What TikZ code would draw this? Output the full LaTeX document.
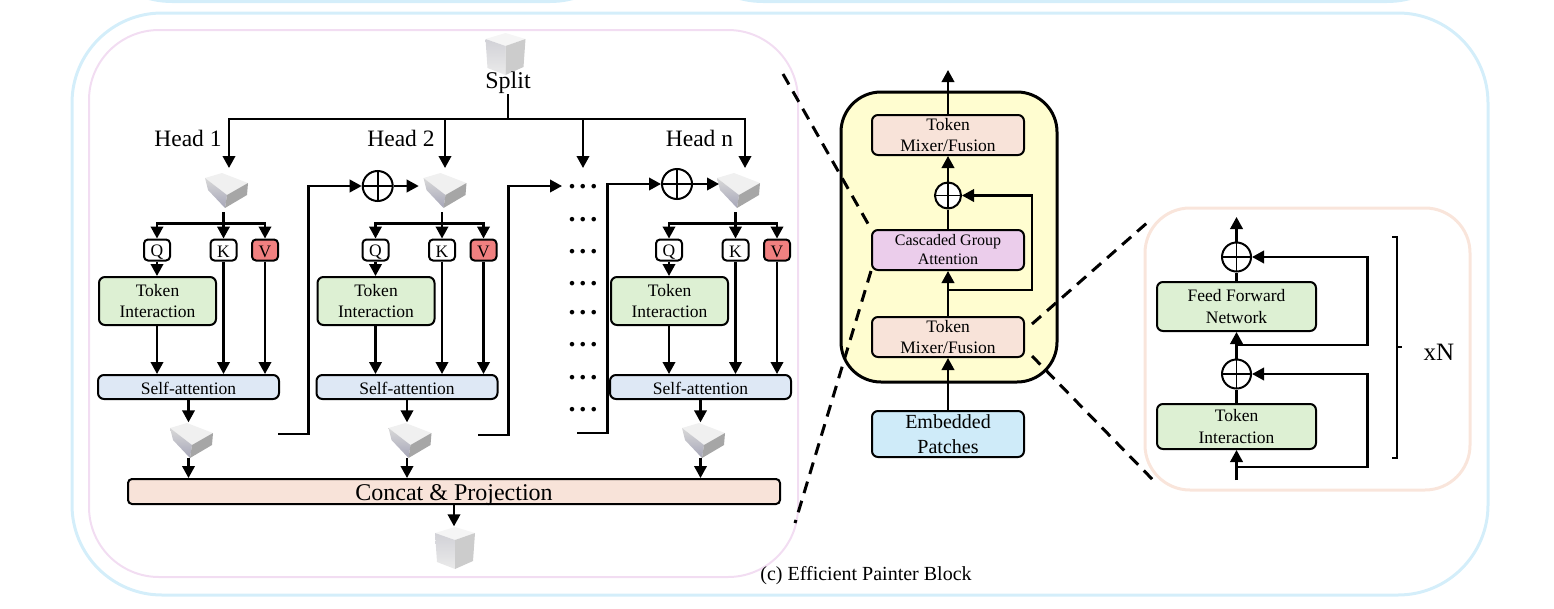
\documentclass[tikz,border=0pt]{standalone}
\usepackage{fontspec}
\setmainfont{Liberation Serif}
\usetikzlibrary{arrows.meta}

\definecolor{framecyan}{HTML}{D4EEFA}
\definecolor{framepink}{HTML}{F2DDF2}
\definecolor{framepeach}{HTML}{F9E5DB}
\definecolor{blockyellow}{HTML}{FFFDD0}
\definecolor{mixerfill}{HTML}{F8E3D9}
\definecolor{groupfill}{HTML}{EBCDEB}
\definecolor{patchfill}{HTML}{CFEBF9}
\definecolor{tokenfill}{HTML}{DDF0D3}
\definecolor{selffill}{HTML}{DEE8F5}
\definecolor{vfill}{HTML}{F08080}

\tikzset{
  flow/.style={line width=2.2pt},
  arr/.style={flow,-{Triangle[length=12pt,width=12.5pt]}},
  frame/.style={line width=3pt},
  slash/.style={line width=3pt,dash pattern=on 12pt off 8pt},
  box/.style={draw,line width=2pt,rounded corners=6pt,inner sep=0pt,align=center},
  drop/.style={execute at begin node={\rule{0pt}{#1}}},
  txtsmall/.style={font=\fontsize{17.5}{21.5}\selectfont,drop=15pt},
  txtbig/.style={font=\fontsize{23.5}{27}\selectfont},
  letter/.style={box,txtsmall,rounded corners=4pt,minimum width=26pt,minimum height=21pt},
  addnode/.style={circle,draw,fill=white,line width=2pt,inner sep=0pt,minimum size=#1,
    path picture={
      \draw[line width=1.6pt] (path picture bounding box.north) -- (path picture bounding box.south);
      \draw[line width=1.6pt] (path picture bounding box.west) -- (path picture bounding box.east);}},
  flatcube/.style={inner sep=0pt,minimum width=46pt,minimum height=35pt,
    path picture={\begin{scope}[shift={(path picture bounding box.center)}]
      \fill[black!6] (-22,-12) -- (-5,-17) -- (21,-7) -- (0,5) -- cycle;
      \shade[top color=black!15,bottom color=blue!20!black!35] (-22,-12) -- (0,5) -- (-2,18) -- (-19,0) -- cycle;
      \fill[black!35] (0,5) -- (21,-7) -- (20,5) -- (-2,18) -- cycle;
    \end{scope}}},
  tallcube/.style={inner sep=0pt,minimum width=42pt,minimum height=43pt,
    path picture={\begin{scope}[shift={(path picture bounding box.center)}]
      \fill[black!4] (-20,-15) -- (0,-21) -- (20,-15) -- (0,-8) -- cycle;
      \shade[top color=blue!12!black!18,bottom color=black!8] (-20,-15) -- (0,-8) -- (0,21) -- (-18,14) -- cycle;
      \fill[black!20] (0,-8) -- (20,-15) -- (18,13) -- (0,21) -- cycle;
    \end{scope}}}
}

\begin{document}
\begin{tikzpicture}[x=1pt,y=-1pt]
  \useasboundingbox (0,0) rectangle (1554,608);
  \clip (0,0) rectangle (1554,608);

  % frames
  \draw[frame,framecyan,rounded corners=90pt] (82,-200) rectangle (640,1.5);
  \draw[frame,framecyan,rounded corners=90pt] (673,-200) rectangle (1477,1.5);
  \draw[frame,framecyan,rounded corners=90pt] (72,13) rectangle (1488,595);
  \draw[line width=2pt,framepink,rounded corners=70pt] (89,30) rectangle (798,577);
  \draw[frame,framepeach,rounded corners=45pt] (1145,208) rectangle (1470,490);
  \draw[line width=3pt,fill=blockyellow,rounded corners=40pt] (841,92) rectangle (1057,382);

  % left part
  \node[tallcube] (cubein) at (505.5,54) {};
  \node[font=\fontsize{24}{28}\selectfont,inner sep=0pt] (split) at (508,83) {Split};
  \coordinate (trunk) at (508,119);
  \draw[flow] (split.south) -- (trunk);
  \foreach \to/\tox in {ina/229,inb/445,ind/583,inn/745} {
    \coordinate (\to) at (\tox,168);
    \draw[arr] (trunk) -| (\to);
  }
  \node[txtbig,inner sep=0pt] (heada) at (188,138.5) {Head 1};
  \node[txtbig,inner sep=0pt] (headb) at (401,138.5) {Head 2};
  \node[txtbig,inner sep=0pt] (headn) at (699.5,138.5) {Head n};

  \node[box,font=\fontsize{24}{28}\selectfont,fill=mixerfill,minimum width=652pt,minimum height=25pt,rounded corners=4pt] (concat) at (454,491.5) {\smash{\raisebox{-8.5pt}{Concat \& Projection}}};
  \node[tallcube] (cubeout) at (455,548) {};
  \draw[arr] (concat.south) -- (concat.south |- cubeout.north);

  \foreach \i/\x in {a/0,b/218.5,n/512} {
    \node[flatcube] (up\i) at (227+\x,190) {};
    \node[flatcube] (low\i) at (192+\x,440) {};
    \node[letter] (q\i) at (157+\x,250) {Q};
    \node[letter] (k\i) at (223.5+\x,250) {K};
    \node[letter,fill=vfill] (v\i) at (265+\x,250) {V};
    \node[box,txtsmall,fill=tokenfill,minimum width=117pt,minimum height=48pt] (token\i) at (157.5+\x,301) {Token\\Interaction};
    \node[box,txtsmall,fill=selffill,minimum width=181pt,minimum height=24pt] (self\i) at (188.5+\x,387) {Self-attention};
    \coordinate (stem\i) at (223.5+\x,212);
    \coordinate (fork\i) at (223.5+\x,223.5);
    \draw[flow] (stem\i) -- (fork\i);
    \draw[arr] (fork\i) -| (q\i.north);
    \draw[arr] (fork\i) -- (k\i.north);
    \draw[arr] (fork\i) -| (v\i.north);
    \draw[arr] (q\i.south) -- (token\i.north -| q\i.south);
    \draw[arr] (token\i.south -| q\i.south) -- (self\i.north -| q\i.south);
    \draw[arr] (k\i.south) -- (self\i.north -| k\i.south);
    \draw[arr] (v\i.south) -- (self\i.north -| v\i.south);
    \draw[arr] (self\i.south) -- (self\i.south |- low\i.north);
    \draw[arr] (self\i.south |- low\i.south) -- (self\i.south |- concat.north);
  }

  \foreach \y in {186,219,251,283,312,344,377,409}
    \node[font=\bfseries\fontsize{28}{28}\selectfont,inner sep=0pt,anchor=base] (dots\y) at (583,\y+2) {.\kern4pt.\kern4pt.};

  \node[addnode=30pt] (plusb) at (377.7,186) {};
  \node[addnode=30pt] (plusn) at (677,184) {};
  \coordinate (reta) at (278,434);
  \coordinate (retb) at (478,435);
  \coordinate (retn) at (577,433);
  \coordinate (dotin) at (562,186);
  \draw[arr] (reta) -- ++(30.5,0) |- (plusb.west);
  \draw[arr] (retb) -- ++(30.5,0) |- (dotin);
  \draw[arr] (retn) -- ++(30.5,0) |- (plusn.west);
  \draw[arr] (plusb.east) -- ++(25,0);
  \draw[arr] (plusn.east) -- ++(26,0);

  % middle part
  \node[box,txtsmall,fill=mixerfill,minimum width=152pt,minimum height=40pt] (mixtop) at (948,135) {Token\\Mixer/Fusion};
  \node[box,font=\fontsize{16}{19}\selectfont,drop=14pt,fill=groupfill,minimum width=152pt,minimum height=40pt] (group) at (948,250) {Cascaded Group\\Attention};
  \node[box,txtsmall,fill=mixerfill,minimum width=152pt,minimum height=40pt] (mixlow) at (948,337) {Token\\Mixer/Fusion};
  \node[box,font=\fontsize{20}{24.5}\selectfont,drop=16pt,fill=patchfill,minimum width=152pt,minimum height=46pt] (patches) at (948,434) {Embedded\\Patches};
  \node[addnode=26pt] (plusmid) at (948,195.5) {};
  \coordinate (outmid) at (948,70);
  \coordinate (tapmid) at (948,290);
  \draw[arr] (mixtop.north) -- (outmid);
  \draw[arr] (plusmid.north) -- (mixtop.south);
  \draw[flow] (group.north) -- (plusmid.south);
  \draw[arr] (mixlow.north) -- (group.south);
  \draw[arr] (patches.north) -- (mixlow.south);
  \draw[arr] (tapmid) -- ++(84,0) |- (plusmid.east);

  % right part
  \node[box,txtsmall,fill=tokenfill,minimum width=159pt,minimum height=49pt] (ffn) at (1236.5,306.5) {Feed Forward\\Network};
  \node[box,txtsmall,fill=tokenfill,minimum width=159pt,minimum height=45pt] (tokenr) at (1236.5,426.5) {Token\\Interaction};
  \node[addnode=29pt] (plusup) at (1236.5,257) {};
  \node[addnode=29pt] (plusdn) at (1236.5,374) {};
  \coordinate (outr) at (1236.5,217);
  \coordinate (inr) at (1236.5,480);
  \coordinate (tapup) at (1236.5,345);
  \coordinate (tapdn) at (1236.5,467);
  \draw[arr] (plusup.north) -- (outr);
  \draw[flow] (ffn.north) -- (plusup.south);
  \draw[arr] (plusdn.north) -- (ffn.south);
  \draw[flow] (tokenr.north) -- (plusdn.south);
  \draw[arr] (inr) -- (tokenr.south);
  \draw[arr] (tapup) -- ++(131,0) |- (plusup.east);
  \draw[arr] (tapdn) -- ++(131,0) |- (plusdn.east);
  \coordinate (bracetop) at (1392,237);
  \coordinate (bracelow) at (1392,458);
  \coordinate (bracemid) at (1397,347);
  \draw[flow] (bracetop) -- ++(5,0) |- (bracelow);
  \draw[flow] (bracemid) -- ++(5,0);
  \node[font=\fontsize{25}{30}\selectfont,inner sep=0pt] (times) at (1439,352) {xN};

  % dashed zoom lines
  \coordinate (slasha) at (783,74);
  \coordinate (slashb) at (795,523);
  \coordinate (slashc) at (1032,324);
  \coordinate (slashd) at (1148,222);
  \coordinate (slashe) at (1032,356);
  \coordinate (slashf) at (1153,480);
  \draw[slash] (slasha) -- (group.north west);
  \draw[slash] (group.south west) -- (slashb);
  \draw[slash] (slashc) -- (slashd);
  \draw[slash] (slashe) -- (slashf);

  \node[font=\fontsize{20}{24}\selectfont,inner sep=0pt] (caption) at (866,575.5) {(c) Efficient Painter Block};
\end{tikzpicture}
\end{document}
